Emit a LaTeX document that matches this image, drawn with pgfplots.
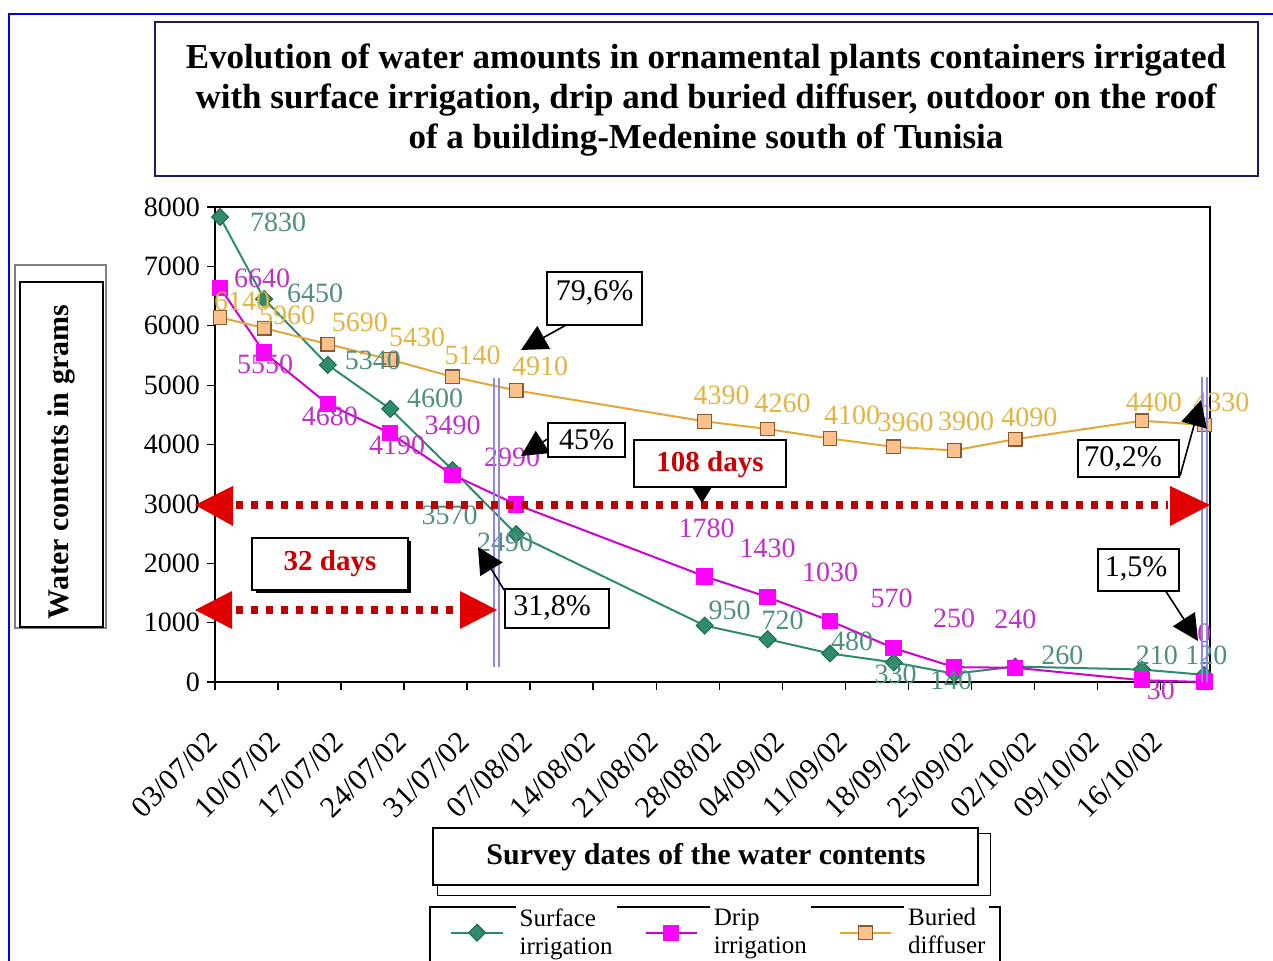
\documentclass[border=0pt]{standalone}
\usepackage{pgfplots}
\pgfplotsset{compat=1.18}
\usepackage{pgfplotstable}
\usepackage{fontspec}
\setmainfont{Liberation Serif}
\usetikzlibrary{arrows.meta}
\definecolor{sgreen}{HTML}{2E8B6B}
\definecolor{sgreenD}{HTML}{1E6A50}
\definecolor{sgreenL}{HTML}{4E8F7E}
\definecolor{dmag}{HTML}{D000D0}
\definecolor{dmagF}{HTML}{FF00FF}
\definecolor{dmagL}{HTML}{C030C8}
\definecolor{bor}{HTML}{E0A838}
\definecolor{borF}{HTML}{FBC08C}
\definecolor{borD}{HTML}{8B5A2B}
\definecolor{borL}{HTML}{E2B444}
\definecolor{navyb}{HTML}{1A1A66}
\definecolor{vblue}{HTML}{8A8AE0}
\definecolor{arrred}{HTML}{E00000}
\definecolor{txtred}{HTML}{CC0000}

% label placed with its centre shifted by (#1 pt, #2 pt) from the data point
\newcommand\lb[3]{\raisebox{\dimexpr #2pt - 4.8pt\relax}[0pt][0pt]{\makebox[0pt]{\kern#1pt\kern#1pt #3}}}

\pgfplotstableread{
x y lab
0.08 7830 \lb{29}{-2.5}{7830}
0.78 6450 \lb{25.5}{3}{6450}
1.79 5340 \lb{22.5}{2.5}{5340}
2.78 4600 \lb{22.5}{5.5}{4600}
3.77 3570 \lb{-1.5}{-22.5}{3570}
4.78 2490 \lb{-5.5}{-4}{2490}
7.77 950 \lb{12.5}{8}{950}
8.77 720 \lb{7.5}{9.5}{720}
9.76 480 \lb{11}{6.5}{480}
10.77 330 \lb{1}{-5.5}{330}
11.73 140 \lb{-1.5}{-3}{140}
12.70 260 \lb{23.5}{6}{260}
14.71 210 \lb{7.5}{7.5}{210}
15.70 120 \lb{1}{10}{120}
}\surf

\pgfplotstableread{
x y lab
0.08 6640 \lb{21}{5}{6640}
0.78 5550 \lb{0.5}{-5.5}{5550}
1.79 4680 \lb{1}{-6}{4680}
2.78 4190 \lb{3.5}{-6}{4190}
3.77 3490 \lb{0}{25}{3490}
4.78 2990 \lb{-2}{24}{2990}
7.77 1780 \lb{1}{24}{1780}
8.77 1430 \lb{0}{24.5}{1430}
9.76 1030 \lb{0}{24.5}{1030}
10.77 570 \lb{-1}{25}{570}
11.73 250 \lb{0}{24.5}{250}
12.70 240 \lb{0}{24.5}{240}
14.71 30 \lb{9.5}{-5}{30}
15.70 0 \lb{0}{24.5}{0}
}\drip

\pgfplotstableread{
x y lab
0.08 6140 \lb{11}{8.5}{6140}
0.78 5960 \lb{11.5}{6.5}{5960}
1.79 5690 \lb{16}{11}{5690}
2.78 5430 \lb{13.5}{11.5}{5430}
3.77 5140 \lb{10}{11}{5140}
4.78 4910 \lb{12}{12.5}{4910}
7.77 4390 \lb{8.5}{13}{4390}
8.77 4260 \lb{7.5}{13}{4260}
9.76 4100 \lb{11}{12}{4100}
10.77 3960 \lb{6}{12.5}{3960}
11.73 3900 \lb{6}{15}{3900}
12.70 4090 \lb{7}{11}{4090}
14.71 4400 \lb{6}{9.5}{4400}
15.70 4330 \lb{8.5}{11.5}{4330}
}\buried

\pgfplotsset{
  lbl/.style={
    forget plot, draw=none, mark=none,
    nodes near coords, point meta=explicit symbolic,
    every node near coord/.append style={anchor=base, inner sep=0pt, outer sep=0pt,
      font=\fontsize{14}{14}\selectfont, text=#1},
  }
}

\begin{document}
\begin{tikzpicture}
% legend frame (drawn first, legend text cells cover it)
\begin{scope}[x=0.5pt, y=-0.5pt]
  \draw[black, line width=0.6pt] (430,1000) -- (430,907) -- (1000,907) -- (1000,1000);
\end{scope}
\begin{axis}[
  at={(107.5pt,-341pt)}, anchor=south west,
  scale only axis, width=497.5pt, height=237.5pt,
  xmin=0, xmax=15.79, ymin=0, ymax=8000,
  xtick={0,...,15},
  xticklabels={\textrm{03/07/02},\textrm{10/07/02},\textrm{17/07/02},\textrm{24/07/02},\textrm{31/07/02},\textrm{07/08/02},\textrm{14/08/02},\textrm{21/08/02},\textrm{28/08/02},\textrm{04/09/02},\textrm{11/09/02},\textrm{18/09/02},\textrm{25/09/02},\textrm{02/10/02},\textrm{09/10/02},\textrm{16/10/02}},
  ytick={0,1000,...,8000},
  yticklabel={\textrm{\pgfmathprintnumber{\tick}}},
  scaled y ticks=false,
  /pgf/number format/assume math mode=true,
  /pgf/number format/1000 sep={},
  tick align=outside, tick pos=left,
  major tick length=4pt,
  tick style={black, line width=0.6pt},
  axis line style={line width=0.6pt},
  x tick label style={xshift=-5pt, yshift=-15pt, rotate=45, anchor=north east, font=\fontsize{15}{15}\selectfont},
  y tick label style={font=\fontsize{14}{14}\selectfont},
  clip=false,
  legend columns=3,
  legend style={at={(0.2362,-0.4674)}, anchor=north west, draw=none, fill=none, inner sep=0pt,
    nodes={fill=white, inner sep=2pt},
    font=\fontsize{12.5}{14}\selectfont, cells={anchor=west, align=left},
    /tikz/every odd column/.append style={column sep=6pt},
    /tikz/every even column/.append style={column sep=14pt}},
  legend image code/.code={\draw[mark repeat=2,mark phase=2,#1] plot coordinates {(0cm,0cm)(0.45cm,0cm)(0.9cm,0cm)};},
]
\addplot[sgreen, line width=1pt, mark=square*, mark size=3pt, mark options={rotate=45, fill=sgreen, draw=sgreenD, line width=0.5pt}]
  table[x=x, y=y]{\surf};
\addplot[dmag, line width=1pt, mark=square*, mark size=3.6pt, mark options={fill=dmagF, draw=dmagF}]
  table[x=x, y=y]{\drip};
\addplot[bor, line width=1pt, mark=square*, mark size=3.4pt, mark options={fill=borF, draw=borD, line width=0.6pt}]
  table[x=x, y=y]{\buried};
\legend{Surface\\irrigation, Drip\\irrigation, Buried\\diffuser}
\addplot[lbl=sgreenL] table[x=x, y=y, meta=lab]{\surf};
\addplot[lbl=dmagL] table[x=x, y=y, meta=lab]{\drip};
\addplot[lbl=borL] table[x=x, y=y, meta=lab]{\buried};
\end{axis}

\begin{scope}[x=0.5pt, y=-0.5pt]
  % outer blue frame
  \draw[blue, line width=1.2pt] (9,990) -- (9,14) -- (1300,14);
  % title
  \draw[navyb, line width=1.3pt] (155,22) rectangle (1258,176);
  \node[align=center, font=\bfseries\fontsize{17.5}{20}\selectfont] at (706,100)
    {Evolution of water amounts in ornamental plants containers irrigated\\with surface irrigation, drip and buried diffuser, outdoor on the roof\\of a building-Medenine south of Tunisia};
  % y label
  \draw[gray, line width=0.6pt] (15,265) rectangle (106,628);
  \draw[black, line width=0.8pt, fill=white] (20,282) rectangle (103,627);
  \node[rotate=90, font=\bfseries\fontsize{15}{15}\selectfont] at (61,462) {Water contents in grams};
  % x label
  \draw[black, line width=0.5pt] (437,833) rectangle (990,895);
  \draw[black, line width=0.9pt, fill=white] (433,828) rectangle (978,885);
  \node[font=\bfseries\fontsize{15}{15}\selectfont] at (706,857) {Survey dates of the water contents};
  % blue vertical double lines
  \draw[vblue, line width=0.6pt] (494,378) -- (494,667) (499,378) -- (499,667);
  \draw[vblue, line width=0.6pt] (1202,377) -- (1202,682) (1207,377) -- (1207,682);
  % red dotted double arrows
  \draw[arrred!85!black, line width=4pt, dash pattern=on 3.5pt off 4pt] (236,505) -- (1168,505);
  \fill[arrred] (195,505) -- (233,486) -- (233,526) -- cycle;
  \fill[arrred] (1210,505) -- (1170,486) -- (1170,526) -- cycle;
  \draw[arrred!85!black, line width=4pt, dash pattern=on 3.5pt off 4pt] (236,610) -- (458,610);
  \fill[arrred] (195,610) -- (232,591) -- (232,629) -- cycle;
  \fill[arrred] (497,610) -- (460,591) -- (460,629) -- cycle;
  % callouts
  \draw[line width=0.8pt, -{Triangle[length=13pt,width=13pt]}] (568,324) -- (521,350);
  \draw[line width=0.8pt, fill=white] (547,272) rectangle (642,325);
  \node[font=\fontsize{15}{15}\selectfont] at (594.5,293) {79,6\%};
  \draw[line width=0.8pt, -{Triangle[length=13pt,width=13pt]}] (549,438) -- (521,456);
  \draw[line width=0.8pt, fill=white] (548,423) rectangle (625,457);
  \node[font=\fontsize{15}{15}\selectfont] at (586.5,440) {45\%};
  \draw[line width=0.8pt, -{Triangle[length=9pt,width=11pt]}] (702,487) -- (702,503);
  \draw[line width=0.8pt, fill=white] (634,440) rectangle (786,487);
  \node[font=\bfseries\fontsize{14.5}{14.5}\selectfont, text=txtred] at (710,465) {108 days};
  \fill[black] (256,541) rectangle (411,593);
  \draw[line width=0.8pt, fill=white] (252,538) rectangle (408,590);
  \node[font=\bfseries\fontsize{14.5}{14.5}\selectfont, text=txtred] at (330,564) {32 days};
  \draw[line width=0.8pt, -{Triangle[length=13pt,width=13pt]}] (504,590) -- (478,547);
  \draw[line width=0.8pt, fill=white] (505,589) rectangle (609,628);
  \node[font=\fontsize{15}{15}\selectfont] at (552,608) {31,8\%};
  \draw[line width=0.8pt, -{Triangle[length=13pt,width=13pt]}] (1180,476) -- (1201,400);
  \draw[line width=0.8pt, fill=white] (1078,440) rectangle (1179,477);
  \node[font=\fontsize{15}{15}\selectfont] at (1123,459) {70,2\%};
  \draw[line width=0.8pt, -{Triangle[length=13pt,width=13pt]}] (1165,590) -- (1198,641);
  \draw[line width=0.8pt, fill=white] (1098,549) rectangle (1179,591);
  \node[font=\fontsize{15}{15}\selectfont] at (1136,569) {1,5\%};
\end{scope}
\pgfresetboundingbox
\useasboundingbox (0,0) rectangle (636.5pt,-480.5pt);
\end{tikzpicture}
\end{document}
